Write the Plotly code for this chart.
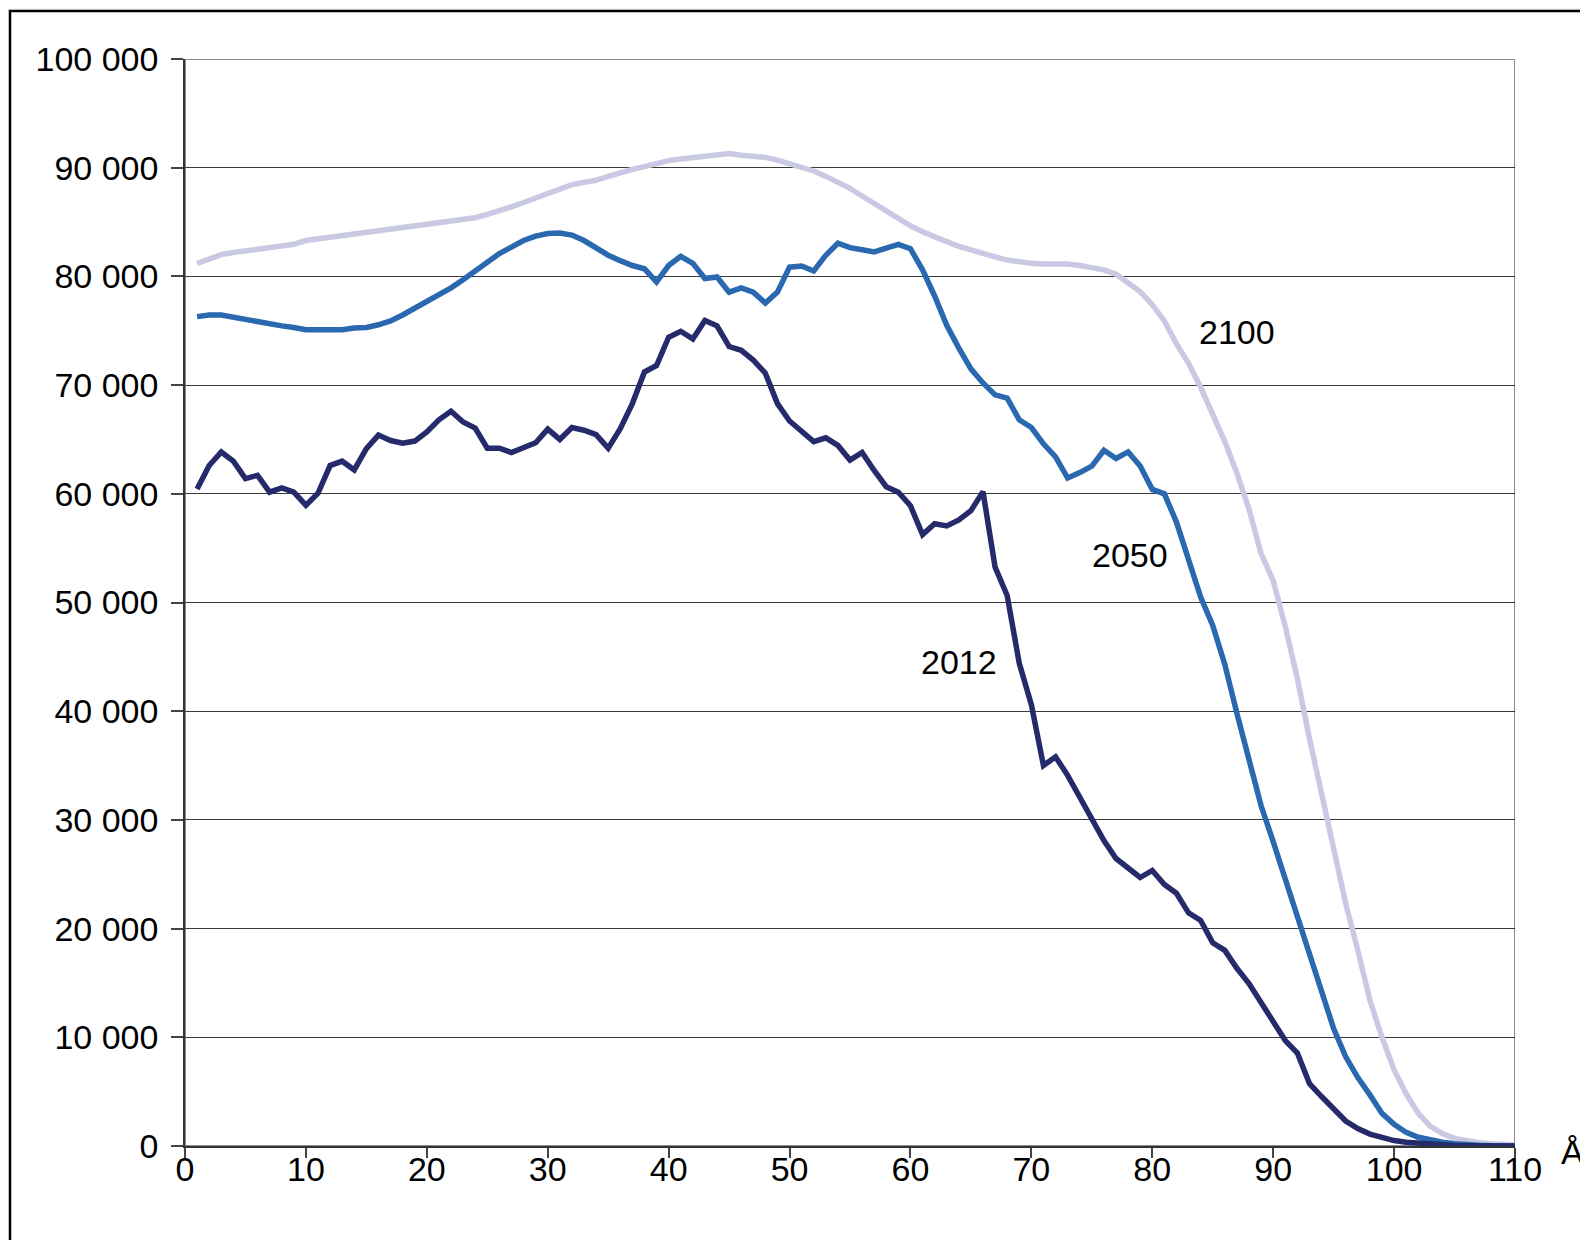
import plotly.graph_objects as go

ages = list(range(1, 111))

pop_2012 = [
    60450, 62600, 63850, 63000, 61400, 61700, 60150, 60550, 60150, 58950,
    60050, 62600, 63000, 62200, 64150, 65400, 64900, 64650, 64850, 65700,
    66800, 67600, 66600, 66050, 64200, 64200, 63800, 64200, 64700, 65950,
    65000, 66100, 65850, 65450, 64200, 66000, 68300, 71200, 71800, 74400,
    74950, 74250, 75950, 75450, 73550, 73200, 72300, 71100, 68300, 66700,
    65750, 64800, 65150, 64450, 63100, 63800, 62150, 60650, 60150, 58900,
    56250, 57250, 57050, 57600, 58450, 60200, 53250, 50650, 44400, 40600,
    35000, 35800, 34100, 32100, 29950, 28100, 26450, 25500, 24700, 25350,
    24050, 23250, 21450, 20750, 18700, 18000, 16350, 14950, 13250, 11600,
    9700, 8550, 5750, 4550, 3400, 2300, 1600, 1100, 800, 500,
    350, 250, 150, 100, 50, 30, 20, 10, 5, 0,
]

pop_2050 = [
    76300, 76450, 76450, 76250, 76000, 75750, 75600, 75450, 75300, 75100,
    75100, 75100, 75100, 75250, 75300, 75550, 75900, 76450, 77050, 77650,
    78250, 78950, 79700, 80550, 81400, 82100, 82700, 83300, 83700, 83950,
    84000, 83800, 83300, 82600, 81950, 81450, 81000, 80700, 79500, 81000,
    81850, 81200, 79800, 79950, 78550, 78950, 78550, 77550, 78550, 80850,
    80950, 80500, 81950, 83050, 82650, 82450, 82250, 82600, 82950, 82550,
    80600, 78200, 75500, 73400, 71500, 70200, 69100, 68800, 66800, 66100,
    64600, 63400, 61450, 61950, 62550, 64000, 63250, 63850, 62550, 60400,
    60000, 57400, 53800, 50500, 47900, 44300, 39800, 35500, 31300, 28000,
    24500, 21100, 17400, 14300, 10800, 8200, 6300, 4700, 3000, 2000,
    1250, 800, 550, 350, 200, 100, 60, 30, 10, 0,
]

pop_2100 = [
    81200, 81600, 82000, 82200, 82350, 82500, 82650, 82800, 82950, 83300,
    83450, 83600, 83750, 83900, 84050, 84200, 84350, 84550, 84700, 84900,
    85050, 85100, 85300, 85400, 85700, 86000, 86400, 86800, 87200, 87600,
    88000, 88450, 88650, 88850, 89200, 89550, 89850, 90100, 90400, 90650,
    90800, 90950, 91100, 91150, 91300, 91150, 91100, 90950, 90700, 90400,
    90050, 89700, 89200, 88700, 88100, 87400, 86700, 86000, 85300, 84650,
    84100, 83600, 83200, 82750, 82400, 82050, 81800, 81500, 81300, 81200,
    81150, 81150, 81150, 81000, 80850, 80600, 80200, 79450, 78600, 77400,
    75900, 73800, 72000, 69800, 67300, 64800, 61900, 58600, 54500, 52000,
    47800, 43000, 37500, 32500, 27500, 22300, 18000, 13400, 10000, 7000,
    4800, 3000, 1800, 1150, 700, 450, 300, 200, 150, 100,
]

series_names = ["2012", "2050", "2100"]
series_colors = ["#252a6b", "#2a68b0", "#c9c9e3"]

y_tickvals = [0, 10000, 20000, 30000, 40000, 50000, 60000, 70000, 80000, 90000, 100000]
y_ticktext = ["0", "10 000", "20 000", "30 000", "40 000", "50 000", "60 000",
              "70 000", "80 000", "90 000", "100 000"]
x_tickvals = [0, 10, 20, 30, 40, 50, 60, 70, 80, 90, 100, 110]

label_pos = {"2100": (87.0, 74850), "2050": (78.15, 54330), "2012": (64.0, 44490)}

FONT = "Liberation Sans, Arial, sans-serif"
FS = 34

fig = go.Figure()
for name, vals, col in reversed(list(zip(series_names, [pop_2012, pop_2050, pop_2100], series_colors))):
    fig.add_trace(go.Scatter(x=ages, y=vals, mode="lines", name=name,
                             line=dict(color=col, width=5.5), showlegend=False,
                             hoverinfo="skip"))

for name, (lx, ly) in label_pos.items():
    fig.add_annotation(x=lx, y=ly, text=name, showarrow=False,
                       font=dict(family=FONT, size=FS, color="#000000"))

# page has an 8px body margin, so figure pixel = page pixel - 8
OFF = 8
W, H = 1588, 1240
L, R, T, B = 185 - OFF, 73 + OFF, 59 - OFF, 94 + OFF
pw, ph = W - L - R, H - T - B

def px_x(px):
    return (px - OFF - L) / pw

def px_y(py):
    return (H - B - (py - OFF)) / ph

# outer frame (white panel with black border)
fig.add_shape(type="rect", xref="paper", yref="paper",
              x0=px_x(10), x1=px_x(1640), y0=px_y(11), y1=px_y(1300),
              line=dict(color="#000000", width=2.5), fillcolor="#ffffff", layer="below")
# plot area border (grey, top & right)
fig.add_shape(type="rect", xref="x", yref="y", x0=0, x1=110, y0=0, y1=100000,
              line=dict(color="#8c8c8c", width=2), fillcolor="rgba(0,0,0,0)", layer="below")

fig.add_annotation(xref="paper", yref="paper", x=px_x(1559), y=px_y(1152),
                   xanchor="left", yanchor="middle", text="Å", showarrow=False,
                   font=dict(family=FONT, size=FS, color="#000000"))

fig.update_layout(
    width=W, height=H,
    margin=dict(l=L, r=R, t=T, b=B),
    paper_bgcolor="#f4f6f5",
    plot_bgcolor="rgba(0,0,0,0)",
    font=dict(family=FONT, size=FS, color="#000000"),
)
fig.update_xaxes(range=[0, 110], tickvals=x_tickvals, ticks="outside", ticklen=10,
                 tickcolor="#444444", tickwidth=1.5, showgrid=False, zeroline=False,
                 showline=True, linecolor="#333333", linewidth=1.5,
                 ticklabelstandoff=-18,
                 tickfont=dict(family=FONT, size=FS, color="#000000"))
fig.update_yaxes(range=[0, 100000], tickvals=y_tickvals, ticktext=y_ticktext,
                 ticks="outside", ticklen=12, tickcolor="#444444", tickwidth=1.5,
                 showgrid=True, gridcolor="#3a3a3a", gridwidth=1, zeroline=False,
                 showline=True, linecolor="#333333", linewidth=1.5,
                 ticklabelstandoff=6,
                 tickfont=dict(family=FONT, size=FS, color="#000000"))

fig.write_html("out.html")
